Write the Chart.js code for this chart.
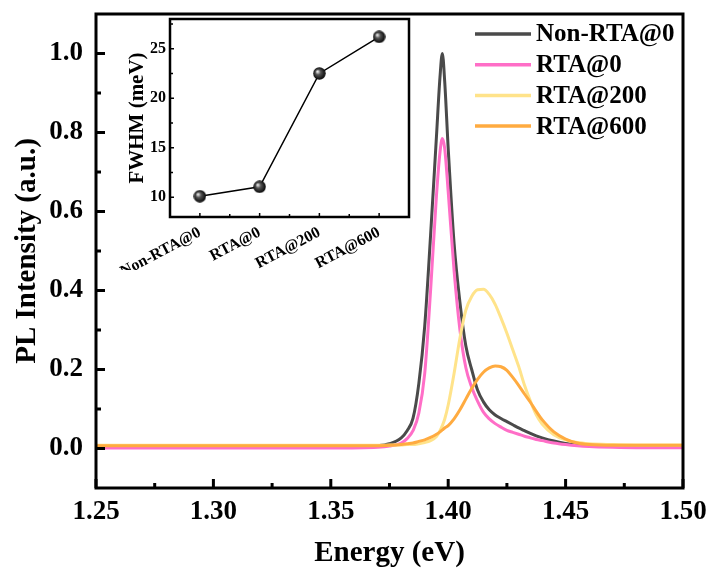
<!DOCTYPE html>
<html><head><meta charset="utf-8">
<script src="https://cdn.jsdelivr.net/npm/chart.js@4.4.1/dist/chart.umd.min.js"></script>
<style>
html,body{margin:0;padding:0;background:#fff;}
#wrap{position:relative;width:710px;height:568px;background:#fff;}
#main{position:absolute;left:0;top:0;width:710px;height:568px;}
#inset{position:absolute;left:110px;top:10px;width:310px;height:260px;}
</style></head><body>
<div id="wrap"><canvas id="main" width="710" height="568"></canvas><canvas id="inset" width="310" height="260"></canvas></div>
<script>
// ---- main spectra data ----
const energy = [1.25,1.30,1.35,1.37,1.375,1.38,1.3825,1.385,1.3875,1.39,1.3925,1.395,1.3965,1.3975,1.3985,1.40,1.4025,1.405,1.4075,1.41,1.4125,1.415,1.4175,1.42,1.4225,1.425,1.4275,1.43,1.4325,1.435,1.4375,1.44,1.445,1.45,1.455,1.46,1.47,1.48,1.50];
const nonRTA0 = [0.003,0.003,0.004,0.007,0.012,0.027,0.045,0.076,0.165,0.31,0.54,0.79,0.94,1.0,0.93,0.76,0.52,0.37,0.26,0.20,0.148,0.118,0.098,0.085,0.076,0.068,0.060,0.052,0.045,0.038,0.032,0.027,0.019,0.013,0.010,0.008,0.006,0.005,0.005];
const rta0 = [0.001,0.001,0.001,0.003,0.006,0.014,0.025,0.045,0.09,0.19,0.40,0.64,0.75,0.785,0.76,0.65,0.45,0.30,0.205,0.155,0.12,0.092,0.075,0.063,0.054,0.046,0.041,0.036,0.031,0.027,0.023,0.020,0.014,0.010,0.007,0.005,0.003,0.002,0.002];
const rta200 = [0.008,0.008,0.008,0.008,0.009,0.009,0.010,0.010,0.012,0.015,0.020,0.030,0.045,0.058,0.074,0.11,0.19,0.28,0.35,0.385,0.402,0.403,0.39,0.365,0.33,0.292,0.25,0.208,0.16,0.12,0.085,0.062,0.035,0.022,0.015,0.012,0.010,0.009,0.009];
const rta600 = [0.007,0.007,0.007,0.007,0.008,0.010,0.012,0.014,0.018,0.022,0.028,0.036,0.042,0.047,0.052,0.058,0.075,0.098,0.125,0.152,0.175,0.193,0.204,0.209,0.207,0.198,0.18,0.16,0.138,0.117,0.094,0.073,0.042,0.024,0.014,0.010,0.008,0.008,0.008];
const seriesNames = ['Non-RTA@0','RTA@0','RTA@200','RTA@600'];
const seriesValues = [nonRTA0, rta0, rta200, rta600];
const seriesColors = ['#4a4a4a','#ff6ec7','#ffe38a','#ffab40'];
const xTicks = [1.25,1.30,1.35,1.40,1.45,1.50];
const yTicks = [0.0,0.2,0.4,0.6,0.8,1.0];

// ---- inset data ----
const samples = ['Non-RTA@0','RTA@0','RTA@200','RTA@600'];
const fwhm = [10.1,11.05,22.5,26.2];
const fwhmTicks = [10,15,20,25];

const FONT = "'Liberation Serif','Times New Roman',serif";
const noPad = s=>{s.paddingTop=0; s.paddingBottom=0; s.paddingLeft=0; s.paddingRight=0;};

const mainFrame = {
  id:'mainFrame',
  afterDraw(chart){
    const {ctx, chartArea:a, scales:{x,y}} = chart;
    ctx.save();
    ctx.strokeStyle='#000'; ctx.lineWidth=3;
    ctx.strokeRect(a.left, a.top, a.right-a.left, a.bottom-a.top);
    const mids = (arr)=>arr.slice(0,-1).map((v,i)=>(v+arr[i+1])/2);
    ctx.beginPath();
    xTicks.forEach(v=>{const p=x.getPixelForValue(v); ctx.moveTo(p,a.bottom); ctx.lineTo(p,a.bottom-9);});
    mids(xTicks).forEach(v=>{const p=x.getPixelForValue(v); ctx.moveTo(p,a.bottom); ctx.lineTo(p,a.bottom-5);});
    yTicks.forEach(v=>{const p=y.getPixelForValue(v); ctx.moveTo(a.left,p); ctx.lineTo(a.left+9,p);});
    mids(yTicks).forEach(v=>{const p=y.getPixelForValue(v); ctx.moveTo(a.left,p); ctx.lineTo(a.left+5,p);});
    ctx.stroke();
    // legend
    ctx.font = "bold 25px " + FONT;
    ctx.textBaseline='middle'; ctx.textAlign='left'; ctx.fillStyle='#000';
    seriesNames.forEach((n,i)=>{
      const yy = 34 + i*30.7;
      ctx.strokeStyle = seriesColors[i]; ctx.lineWidth=3.5;
      ctx.beginPath(); ctx.moveTo(475,yy); ctx.lineTo(531,yy); ctx.stroke();
      ctx.fillText(n, 536, yy+1);
    });
    ctx.restore();
  }
};

new Chart(document.getElementById('main'), {
  type:'line',
  data:{datasets: seriesNames.map((n,i)=>({
    label:n,
    data: energy.map((e,j)=>({x:e, y:seriesValues[i][j]})),
    borderColor: seriesColors[i], backgroundColor: seriesColors[i],
    borderWidth: 3, pointRadius:0, cubicInterpolationMode:'monotone', fill:false,
    order: 4-i
  }))},
  options:{
    responsive:false, animation:false, devicePixelRatio:1,
    layout:{padding:{top:14,right:27,left:0,bottom:0}},
    plugins:{legend:{display:false}, tooltip:{enabled:false}},
    scales:{
      x:{type:'linear', min:1.25, max:1.5,
        afterBuildTicks:s=>{s.ticks = xTicks.map(v=>({value:v}));},
        afterFit:s=>{s.height=80; noPad(s);},
        grid:{display:false, drawTicks:false}, border:{display:false},
        ticks:{padding:8, autoSkip:false, maxRotation:0, color:'#000',
          font:{family:FONT, size:27, weight:'bold'}, callback:v=>Number(v).toFixed(2)},
        title:{display:true, text:'Energy (eV)', color:'#000',
          font:{family:FONT, size:29, weight:'bold', lineHeight:1}, padding:{top:0,bottom:0}}
      },
      y:{type:'linear', min:-0.1, max:1.1,
        afterBuildTicks:s=>{s.ticks = yTicks.map(v=>({value:v}));},
        afterFit:s=>{s.width=96; noPad(s);},
        grid:{display:false, drawTicks:false}, border:{display:false},
        ticks:{padding:13, color:'#000', font:{family:FONT, size:27, weight:'bold'},
          callback:v=>Number(v).toFixed(1)},
        title:{display:true, text:'PL Intensity (a.u.)', color:'#000',
          font:{family:FONT, size:29, weight:'bold', lineHeight:1}, padding:{top:13,bottom:0}}
      }
    }
  },
  plugins:[mainFrame]
});

// sphere marker
const sphere = document.createElement('canvas');
sphere.width=13; sphere.height=13;
(function(){
  const c = sphere.getContext('2d');
  const g = c.createRadialGradient(4.5,4.5,0.5,6.5,6.5,6.5);
  g.addColorStop(0,'#e8e8e8'); g.addColorStop(0.35,'#555'); g.addColorStop(1,'#000');
  c.fillStyle=g; c.beginPath(); c.arc(6.5,6.5,6.2,0,Math.PI*2); c.fill();
})();

const insetFrame = {
  id:'insetFrame',
  afterDraw(chart){
    const {ctx, chartArea:a, scales:{x,y}} = chart;
    ctx.save();
    ctx.strokeStyle='#000'; ctx.lineWidth=2.5;
    ctx.strokeRect(a.left, a.top, a.right-a.left, a.bottom-a.top);
    ctx.lineWidth=1.5;
    ctx.beginPath();
    samples.forEach((s,i)=>{const p=x.getPixelForValue(i); ctx.moveTo(p,a.bottom); ctx.lineTo(p,a.bottom-4);
      if(i<samples.length-1){const q=(p+x.getPixelForValue(i+1))/2; ctx.moveTo(q,a.bottom); ctx.lineTo(q,a.bottom-3);} });
    fwhmTicks.forEach((v,i)=>{const p=y.getPixelForValue(v); ctx.moveTo(a.left,p); ctx.lineTo(a.left+4,p);
      const step = i<fwhmTicks.length-1 ? fwhmTicks[i+1]-v : v-fwhmTicks[i-1];
      const q=y.getPixelForValue(v+step/2); ctx.moveTo(a.left,q); ctx.lineTo(a.left+3,q);});
    ctx.stroke();
    ctx.restore();
  }
};

new Chart(document.getElementById('inset'), {
  type:'line',
  data:{labels:samples, datasets:[{data:fwhm, borderColor:'#000', borderWidth:1.5,
    pointStyle:sphere, pointRadius:6, tension:0, fill:false}]},
  options:{
    responsive:false, animation:false, devicePixelRatio:1,
    layout:{padding:{top:9,right:11,left:0,bottom:0}},
    plugins:{legend:{display:false}, tooltip:{enabled:false}},
    scales:{
      x:{type:'category', offset:true,
        afterFit:s=>{s.height=53; noPad(s);},
        grid:{display:false, drawTicks:false}, border:{display:false},
        ticks:{padding:6, minRotation:28, maxRotation:28, autoSkip:false, color:'#000',
          font:{family:FONT, size:16, weight:'bold'}}
      },
      y:{type:'linear', min:8, max:28,
        afterBuildTicks:s=>{s.ticks = fwhmTicks.map(v=>({value:v}));},
        afterFit:s=>{s.width=60; noPad(s);},
        grid:{display:false, drawTicks:false}, border:{display:false},
        ticks:{padding:4, color:'#000', font:{family:FONT, size:16, weight:'bold'}},
        title:{display:true, text:'FWHM (meV)', color:'#000',
          font:{family:FONT, size:21, weight:'bold', lineHeight:1}, padding:{top:17,bottom:0}}
      }
    }
  },
  plugins:[insetFrame]
});
</script>
</body></html>
